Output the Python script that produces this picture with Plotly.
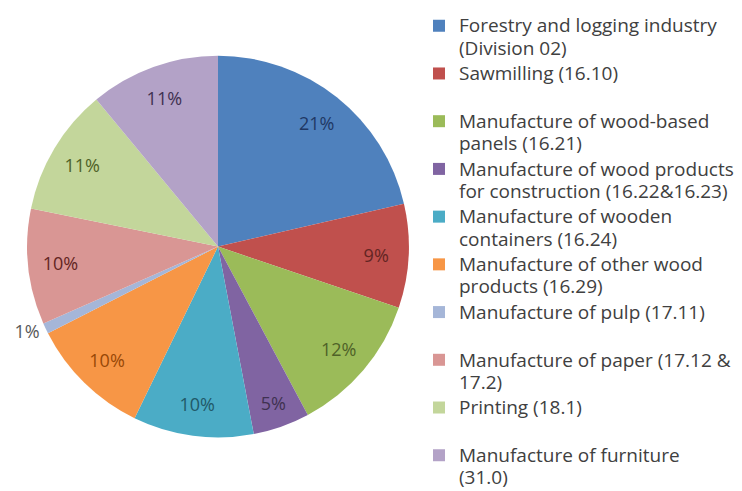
import plotly.graph_objects as go

labels = [
    "Forestry and logging industry<br>(Division 02)",
    "Sawmilling (16.10)<br> ",
    "Manufacture of wood-based<br>panels (16.21)",
    "Manufacture of wood products<br>for construction (16.22&16.23)",
    "Manufacture of wooden<br>containers (16.24)",
    "Manufacture of other wood<br>products (16.29)",
    "Manufacture of pulp (17.11)<br> ",
    "Manufacture of paper (17.12 &<br>17.2)",
    "Printing (18.1)<br> ",
    "Manufacture of furniture<br>(31.0)",
]
values = [21.4, 8.8, 12.0, 4.8, 10.2, 10.3, 0.9, 9.8, 10.8, 11.0]
colors = ["#4F81BD", "#C0504D", "#9BBB59", "#8064A2", "#4BACC6",
          "#F79646", "#A5B6D8", "#D99694", "#C3D69B", "#B3A2C7"]
text_colors = ["#1F3864", "#632523", "#4F6228", "#3F3151", "#215968",
               "#974806", "#595959", "#632523", "#4F6228", "#3F3151"]
text_pos = ["inside"] * 6 + ["outside"] + ["inside"] * 3

# legend labels rendered with slightly larger glyphs
legend_labels = ["<br>".join('<span style="font-size:19px">%s</span>' % part
                             for part in lab.split("<br>"))
                 for lab in labels]

W, H = 742, 491
dom = dict(x=[18/W, 402/W], y=[1-429/H, 1-45/H])

fig = go.Figure()
# full pie (slices + legend)
fig.add_trace(go.Pie(
    labels=legend_labels, values=values, sort=False, direction="clockwise",
    rotation=0, marker=dict(colors=colors, line=dict(width=0)),
    textposition="none", domain=dom, hoverinfo="percent",
))
# transparent ring carrying the percentage labels further out
fig.add_trace(go.Pie(
    labels=legend_labels, values=values, sort=False, direction="clockwise",
    rotation=0, hole=0.66,
    marker=dict(colors=["rgba(0,0,0,0)"] * len(values), line=dict(width=0)),
    texttemplate="%{percent:.0%}", textposition=text_pos,
    insidetextorientation="horizontal",
    textfont=dict(color=text_colors, size=18, family="Open Sans"),
    domain=dom, showlegend=False, hoverinfo="skip",
))

fig.update_layout(
    width=W, height=H,
    margin=dict(l=0, r=0, t=0, b=0),
    paper_bgcolor="white",
    plot_bgcolor="white",
    font=dict(family="Open Sans", color="#404040"),
    showlegend=True,
    legend=dict(
        x=411/W, y=1.006, xanchor="left", yanchor="top",
        valign="top", maxheight=H,
        font=dict(size=17.2, family="Open Sans", color="#404040"),
        bgcolor="rgba(0,0,0,0)",
        traceorder="normal",
    ),
)

fig.write_html("out.html")
